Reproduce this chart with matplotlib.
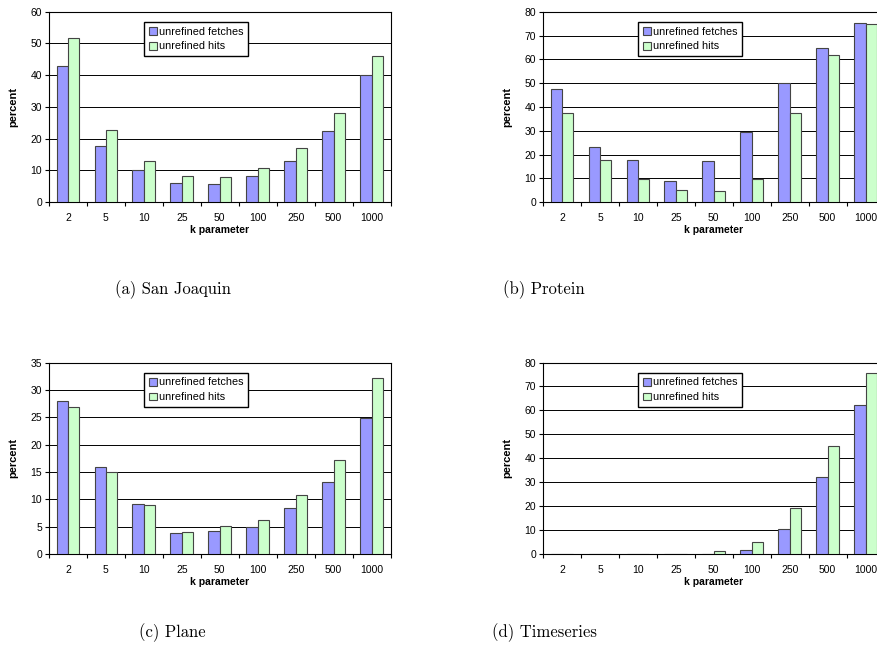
import matplotlib.pyplot as plt
import numpy as np

plt.rcParams['font.family'] = ['Liberation Sans', 'DejaVu Sans']

k_labels = ['2', '5', '10', '25', '50', '100', '250', '500', '1000']
series_names = ['unrefined fetches', 'unrefined hits']

# percent values per dataset
sanjoaquin_fetches = [43.0, 17.8, 10.0, 5.9, 5.7, 8.1, 13.0, 22.5, 40.1]
sanjoaquin_hits = [51.6, 22.7, 13.0, 8.2, 7.8, 10.6, 17.0, 28.2, 45.9]

protein_fetches = [47.7, 23.3, 17.5, 8.7, 17.2, 29.4, 49.9, 64.8, 75.3]
protein_hits = [37.5, 17.5, 9.8, 5.3, 4.5, 9.7, 37.6, 62.0, 74.8]

plane_fetches = [28.0, 16.0, 9.2, 3.9, 4.3, 5.0, 8.4, 13.2, 24.9]
plane_hits = [26.8, 15.1, 8.9, 4.1, 5.1, 6.3, 10.8, 17.2, 32.2]

timeseries_fetches = [0.0, 0.0, 0.0, 0.0, 0.2, 1.8, 10.4, 32.1, 62.3]
timeseries_hits = [0.0, 0.0, 0.0, 0.0, 1.3, 5.3, 19.3, 45.0, 75.8]

captions = ['(a) San Joaquin', '(b) Protein', '(c) Plane', '(d) Timeseries']
y_max = [60, 80, 35, 80]
y_step = [10, 10, 5, 10]

fetch_color = '#9999ff'
hit_color = '#ccffcc'
edge_color = '#444444'

fig = plt.figure(figsize=(8.78, 6.52), dpi=100)

# axes rectangles in figure fractions (left, bottom, width, height)
rects = [
    (0.0558, 0.690, 0.389, 0.292),
    (0.6185, 0.690, 0.389, 0.292),
    (0.0558, 0.150, 0.389, 0.294),
    (0.6185, 0.150, 0.389, 0.294),
]
caption_pos = [(0.197, 0.541), (0.619, 0.541), (0.196, 0.015), (0.620, 0.015)]

data = [
    (sanjoaquin_fetches, sanjoaquin_hits),
    (protein_fetches, protein_hits),
    (plane_fetches, plane_hits),
    (timeseries_fetches, timeseries_hits),
]

x = np.arange(len(k_labels))
w = 0.3

for i, (fetches, hits) in enumerate(data):
    ax = fig.add_axes(rects[i])
    ax.bar(x - w / 2, fetches, w, color=fetch_color, edgecolor=edge_color,
           linewidth=0.8, label=series_names[0], zorder=3)
    ax.bar(x + w / 2, hits, w, color=hit_color, edgecolor=edge_color,
           linewidth=0.8, label=series_names[1], zorder=3)

    ax.set_xlim(-0.5, len(k_labels) - 0.5)
    ax.set_ylim(0, y_max[i])
    ax.set_yticks(np.arange(0, y_max[i] + 0.1, y_step[i]))
    ax.yaxis.grid(True, color='black', linewidth=0.7, zorder=0)
    ax.set_axisbelow(True)

    # category labels centred, tick marks on the boundaries
    ax.set_xticks(x)
    ax.set_xticklabels(k_labels)
    ax.set_xticks(np.arange(-0.5, len(k_labels)), minor=True)
    ax.tick_params(axis='x', which='major', length=0, pad=8, labelsize=7.5)
    ax.tick_params(axis='x', which='minor', length=3, width=0.8, direction='out')
    ax.tick_params(axis='y', length=3, width=0.8, labelsize=7.5, pad=2)

    for s in ax.spines.values():
        s.set_color('black')
        s.set_linewidth(0.8)

    ax.set_xlabel('k parameter', fontsize=7.5, fontweight='bold', labelpad=1)
    ax.set_ylabel('percent', fontsize=8, fontweight='bold', labelpad=9)

    ax.legend(loc='upper left', bbox_to_anchor=(0.279, 0.945), fontsize=7.8,
              frameon=True, fancybox=False, edgecolor='black', framealpha=1,
              handlelength=0.75, handleheight=0.75, handletextpad=0.2,
              borderpad=0.4, labelspacing=0.45, borderaxespad=0)

    fig.text(caption_pos[i][0], caption_pos[i][1], captions[i], fontsize=12,
             fontfamily='cmr10', ha='center', va='bottom')

fig.savefig('out.png', dpi=100)
